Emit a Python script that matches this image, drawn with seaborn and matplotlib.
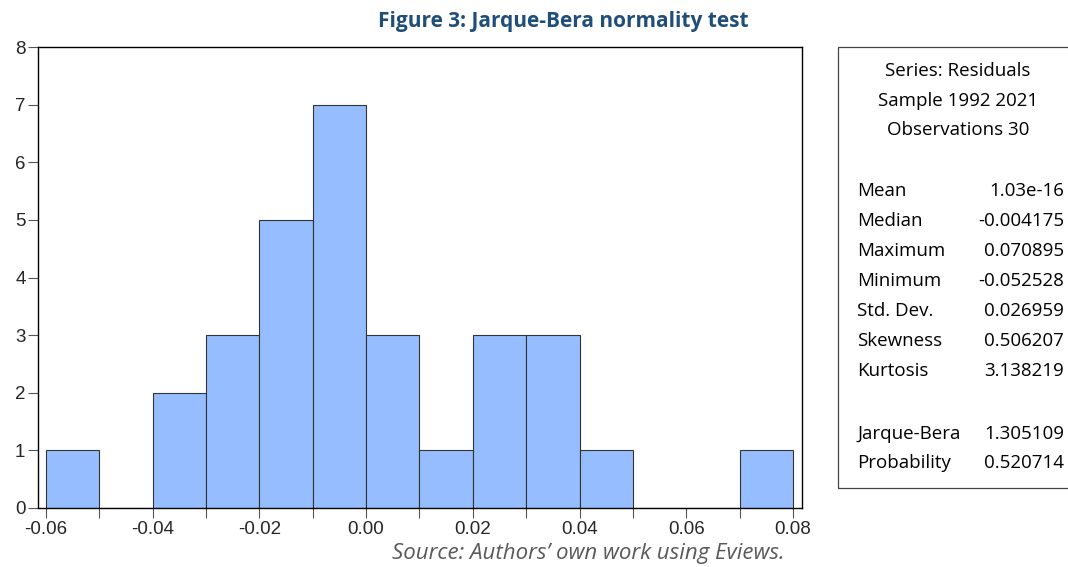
import numpy as np
import pandas as pd
import matplotlib
matplotlib.use("Agg")
import matplotlib.pyplot as plt
import seaborn as sns

# ============================================
# DATA
# ============================================

bin_left = [-0.06, -0.05, -0.04, -0.03, -0.02, -0.01, 0.00,
            0.01, 0.02, 0.03, 0.04, 0.05, 0.06, 0.07]
bin_count = [1, 0, 2, 3, 5, 7, 3, 1, 3, 3, 1, 0, 0, 1]
bin_width = 0.01

x_ticks = [-0.06, -0.04, -0.02, 0.00, 0.02, 0.04, 0.06, 0.08]
y_ticks = [0, 1, 2, 3, 4, 5, 6, 7, 8]

stat_header = ["Series: Residuals", "Sample 1992 2021", "Observations 30"]
stat_names = ["Mean", "Median", "Maximum", "Minimum", "Std. Dev.",
              "Skewness", "Kurtosis"]
stat_values = ["1.03e-16", "-0.004175", "0.070895", "-0.052528",
               "0.026959", "0.506207", "3.138219"]
jb_names = ["Jarque-Bera", "Probability"]
jb_values = ["1.305109", "0.520714"]

title = "Figure 3: Jarque-Bera normality test"
source = "Source: Authors\u2019 own work using Eviews."

# ============================================
# PLOT
# ============================================

sns.set_style("ticks")
plt.rcParams["font.family"] = ["Liberation Sans", "DejaVu Sans"]

df = pd.DataFrame({"centre": np.array(bin_left) + bin_width / 2,
                   "count": bin_count})
edges = list(bin_left) + [bin_left[-1] + bin_width]

fig = plt.figure(figsize=(10.68, 5.67), dpi=100)
ax = fig.add_axes([38 / 1068, 1 - 508 / 567, 764 / 1068, 461 / 567])

sns.histplot(data=df, x="centre", weights="count", bins=edges,
             color="#96BDFF", alpha=1, edgecolor="#333333", linewidth=0.8,
             ax=ax)

ax.set_xlim(-0.0615, 0.0817)
ax.set_ylim(0, 8)
ax.set_xticks(edges, minor=True)
ax.set_xticks(x_ticks)
ax.set_xticklabels([f"{v:.2f}" for v in x_ticks])
ax.set_yticks(y_ticks)
ax.tick_params(axis="both", labelsize=13.5, length=7, width=0.8,
               color="#555555", pad=2)
ax.tick_params(axis="x", which="minor", length=7, width=0.8, color="#555555")
ax.set_xlabel("")
ax.set_ylabel("")
for s in ax.spines.values():
    s.set_visible(True)
    s.set_linewidth(1.0)
    s.set_color("black")

# title and source
fig.text(563 / 1068, 1 - 22 / 567, title, ha="center", va="center",
         fontsize=15, fontweight="bold", color="#1F4E79",
         family=["Open Sans", "DejaVu Sans"])
fig.text(588 / 1068, 1 - 553 / 567, source, ha="center", va="center",
         fontsize=16, style="italic", color="#595959",
         family=["Open Sans", "DejaVu Sans"])

# statistics box
box = plt.Rectangle((838 / 1068, 1 - 488 / 567), 232 / 1068, 441 / 567,
                    transform=fig.transFigure, fill=False,
                    edgecolor="#444444", linewidth=0.9)
fig.add_artist(box)

stat_font = dict(fontsize=13.5, color="black",
                 family=["Open Sans", "DejaVu Sans"], va="center")
for i, line in enumerate(stat_header):
    fig.text(958 / 1068, 1 - (71 + 29.5 * i) / 567, line, ha="center",
             **stat_font)
for i, (n, v) in enumerate(zip(stat_names, stat_values)):
    y = 1 - (191 + 30 * i) / 567
    fig.text(857 / 1068, y, n, ha="left", **stat_font)
    fig.text(1064 / 1068, y, v, ha="right", **stat_font)
for i, (n, v) in enumerate(zip(jb_names, jb_values)):
    y = 1 - (434 + 29.5 * i) / 567
    fig.text(857 / 1068, y, n, ha="left", **stat_font)
    fig.text(1064 / 1068, y, v, ha="right", **stat_font)

fig.savefig("out.png", dpi=100)
